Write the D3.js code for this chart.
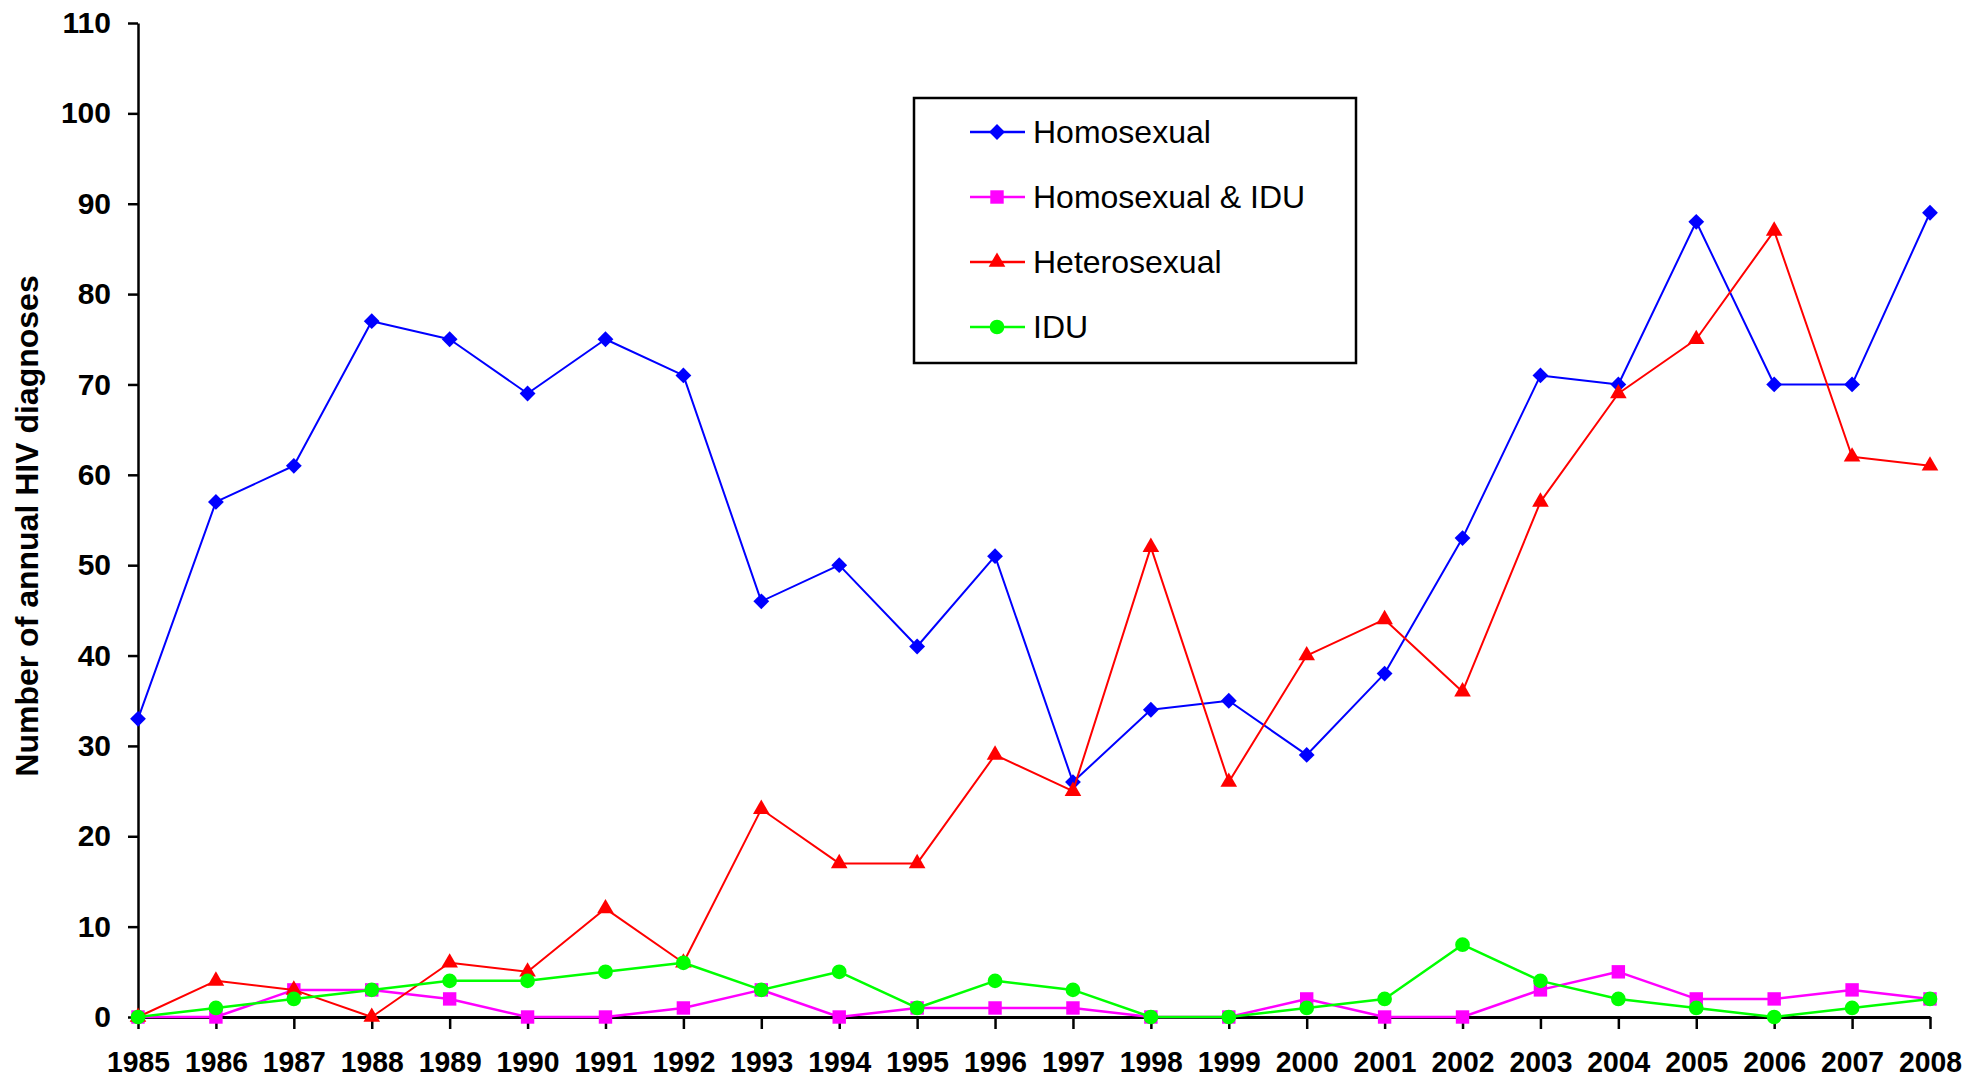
<!DOCTYPE html>
<html>
<head>
<meta charset="utf-8">
<script src="https://cdn.jsdelivr.net/npm/d3@7"></script>
<style>
  body { margin: 0; background: #fff; }
  svg text { font-family: "Liberation Sans", Arial, sans-serif; }
</style>
</head>
<body>
<svg id="chart"></svg>
<script>
// values
const years = [1985, 1986, 1987, 1988, 1989, 1990, 1991, 1992, 1993, 1994, 1995, 1996,
               1997, 1998, 1999, 2000, 2001, 2002, 2003, 2004, 2005, 2006, 2007, 2008];
const homosexual    = [33, 57, 61, 77, 75, 69, 75, 71, 46, 50, 41, 51, 26, 34, 35, 29, 38, 53, 71, 70, 88, 70, 70, 89];
const homosexualIdu = [0, 0, 3, 3, 2, 0, 0, 1, 3, 0, 1, 1, 1, 0, 0, 2, 0, 0, 3, 5, 2, 2, 3, 2];
const heterosexual  = [0, 4, 3, 0, 6, 5, 12, 6, 23, 17, 17, 29, 25, 52, 26, 40, 44, 36, 57, 69, 75, 87, 62, 61];
const idu           = [0, 1, 2, 3, 4, 4, 5, 6, 3, 5, 1, 4, 3, 0, 0, 1, 2, 8, 4, 2, 1, 0, 1, 2];
const yTicks = [0, 10, 20, 30, 40, 50, 60, 70, 80, 90, 100, 110];
const seriesNames = ['Homosexual', 'Homosexual & IDU', 'Heterosexual', 'IDU'];
const yTitle = 'Number of annual HIV diagnoses';

const width = 1986, height = 1079;
const margin = { top: 23, right: 56, bottom: 62, left: 138 };

const svg = d3.select('#chart').attr('width', width).attr('height', height);

const x = d3.scaleLinear().domain([1985, 2008]).range([margin.left, width - margin.right]);
const y = d3.scaleLinear().domain([0, 110]).range([height - margin.bottom, margin.top]);

// marker shapes, excel style
const diamond = d3.symbol().type(d3.symbolSquare).size(125);
const series = [
    { name: seriesNames[0], values: homosexual,    color: '#0000ff', path: diamond(),                                       rotate: 45, width: 2 },
    { name: seriesNames[1], values: homosexualIdu, color: '#ff00ff', path: d3.symbol().type(d3.symbolSquare).size(180)(),   rotate: 0,  width: 2.5 },
    { name: seriesNames[2], values: heterosexual,  color: '#ff0000', path: d3.symbol().type(d3.symbolTriangle).size(120)(), rotate: 0,  width: 2 },
    { name: seriesNames[3], values: idu,           color: '#00ff00', path: d3.symbol().type(d3.symbolCircle).size(170)(),   rotate: 0,  width: 2.5 }
];

// y axis
const gy = svg.append('g')
    .attr('transform', 'translate(' + margin.left + ',0)')
    .call(d3.axisLeft(y).tickValues(yTicks).tickSize(10).tickSizeOuter(0).tickPadding(17));
gy.select('.domain').attr('stroke', '#000').attr('stroke-width', 2.5);
gy.selectAll('.tick line').attr('stroke', '#000').attr('stroke-width', 2.5);
gy.selectAll('.tick text')
    .attr('fill', '#000')
    .style('font-size', '30px')
    .style('font-weight', 'bold');

// x axis
const gx = svg.append('g')
    .attr('transform', 'translate(0,' + y(0) + ')')
    .call(d3.axisBottom(x).tickValues(years).tickFormat(d3.format('d')).tickSize(12).tickSizeOuter(0).tickPadding(22));
gx.select('.domain').attr('stroke', '#000').attr('stroke-width', 3);
gx.selectAll('.tick line').attr('stroke', '#000').attr('stroke-width', 2.5);
gx.selectAll('.tick text')
    .attr('fill', '#000')
    .style('font-size', '30px')
    .style('font-weight', 'bold')
    .attr('textLength', 63)
    .attr('lengthAdjust', 'spacingAndGlyphs');

// y axis title
svg.append('text')
    .attr('transform', 'translate(38,526) rotate(-90)')
    .attr('text-anchor', 'middle')
    .style('font-size', '32px')
    .style('font-weight', 'bold')
    .text(yTitle);

// lines + markers
const line = d3.line()
    .x((d, i) => x(years[i]))
    .y(d => y(d));

series.forEach(s => {
    const g = svg.append('g');
    g.append('path')
        .datum(s.values)
        .attr('fill', 'none')
        .attr('stroke', s.color)
        .attr('stroke-width', s.width)
        .attr('stroke-linejoin', 'round')
        .attr('d', line);
    g.selectAll('.mark')
        .data(s.values)
        .enter().append('path')
        .attr('class', 'mark')
        .attr('d', s.path)
        .attr('fill', s.color)
        .attr('transform', (d, i) => 'translate(' + x(years[i]) + ',' + y(d) + ') rotate(' + s.rotate + ')');
});

// legend
const legend = svg.append('g').attr('transform', 'translate(914,98)');
legend.append('rect')
    .attr('width', 442)
    .attr('height', 265)
    .attr('fill', '#fff')
    .attr('stroke', '#000')
    .attr('stroke-width', 2.5);

const item = legend.selectAll('.item')
    .data(series)
    .enter().append('g')
    .attr('class', 'item')
    .attr('transform', (d, i) => 'translate(0,' + (34 + i * 65) + ')');
item.append('line')
    .attr('x1', 56).attr('x2', 111)
    .attr('stroke', d => d.color)
    .attr('stroke-width', 2.5);
item.append('path')
    .attr('d', d => d.path)
    .attr('fill', d => d.color)
    .attr('transform', d => 'translate(83,0) rotate(' + d.rotate + ')');
item.append('text')
    .attr('x', 119)
    .attr('dy', '0.35em')
    .style('font-size', '32px')
    .text(d => d.name);
</script>
</body>
</html>
